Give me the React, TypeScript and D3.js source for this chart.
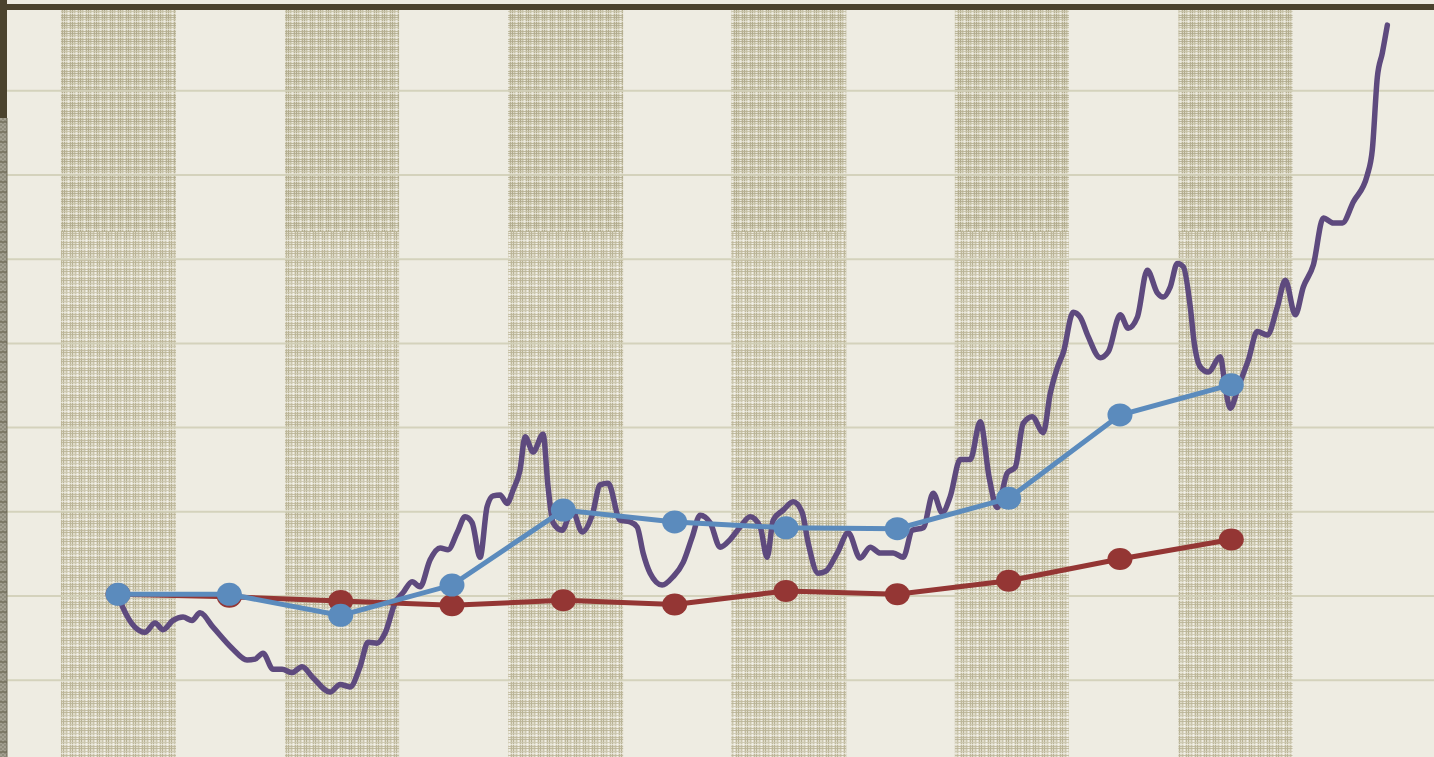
import { useMemo } from "react";
import * as d3 from "d3";

// category positions, in months from the first observation
const categoryMonths = [0, 12, 24, 36, 48, 60, 72, 84, 96, 108, 120];

// shaded periods, [start month, end month]
const bandSpans: [number, number][] = [
  [-6.15, 6.25], [18.0, 30.3], [42.05, 54.45], [66.1, 78.5], [90.2, 102.5], [114.3, 126.6],
];

// series with markers (index, first = 100)
const redValues = [100.2, 99.9, 99.4, 98.9, 99.5, 99.0, 100.6, 100.2, 101.8, 104.4, 106.7];
const blueValues = [100.2, 100.2, 97.7, 101.3, 110.2, 108.8, 108.1, 108.0, 111.6, 121.5, 125.1];

// weekly-ish series: [month, value]
const purpleSeries: [number, number][] = [
  [0, 100.2], [0.54, 98.6], [2.91, 95.7], [3.99, 96.8], [4.85, 96.0], [5.93, 97.1],
  [7.01, 97.5], [7.98, 97.1], [8.84, 98.0], [10.24, 96.3], [12.29, 93.8], [13.91, 92.4],
  [14.77, 92.5], [15.63, 93.2], [16.71, 91.3], [17.68, 91.3], [18.76, 90.9], [19.84, 91.6],
  [21.02, 90.3], [22.86, 88.6], [23.94, 89.5], [25.01, 89.2], [26.09, 91.6], [26.95, 94.5],
  [27.92, 94.4], [28.79, 95.6], [29.87, 99.2], [30.73, 100.4], [31.7, 101.7], [32.56, 101.1],
  [33.64, 104.3], [34.72, 105.7], [35.58, 105.5], [36.55, 107.5], [37.41, 109.4], [38.17, 108.7],
  [39.03, 104.6], [39.78, 110.6], [40.43, 111.9], [41.19, 112.0], [41.94, 111.0], [42.59, 112.6],
  [43.34, 115.0], [43.88, 118.9], [44.74, 117.1], [45.82, 119.2], [46.36, 112.9], [46.9, 108.7],
  [47.87, 107.8], [48.95, 110.2], [50.03, 107.6], [51.11, 109.6], [51.97, 113.2], [52.83, 113.4],
  [54.12, 109.0], [55.2, 108.8], [55.96, 108.2], [56.6, 105.1], [57.36, 102.7], [58.65, 101.3],
  [59.84, 102.3], [60.92, 104.0], [61.89, 107.0], [62.75, 109.6], [63.83, 108.7], [64.91, 105.8],
  [65.98, 106.7], [67.06, 108.2], [68.14, 109.4], [69.22, 108.2], [69.97, 104.6], [70.62, 109.0],
  [71.7, 110.2], [72.78, 111.2], [73.75, 109.9], [74.39, 106.3], [75.47, 102.7], [76.23, 102.9],
  [77.52, 105.1], [78.71, 107.5], [80.0, 104.5], [81.08, 105.8], [82.16, 105.1], [83.56, 105.1],
  [84.64, 104.6], [85.61, 107.8], [86.79, 108.1], [87.87, 112.2], [88.84, 109.9], [89.7, 111.8],
  [90.78, 116.2], [91.86, 116.2], [92.94, 120.7], [93.91, 114.0], [94.77, 110.5], [95.85, 114.6],
  [96.71, 115.3], [97.57, 120.5], [98.54, 121.3], [99.73, 119.4], [100.49, 124.1], [101.24, 127.1],
  [101.89, 128.9], [102.96, 133.7], [103.72, 133.1], [104.58, 130.8], [105.88, 128.3], [106.74, 129.0],
  [108.03, 133.4], [108.89, 131.8], [109.87, 133.1], [110.94, 138.7], [112.02, 136.0], [112.67, 135.5],
  [113.42, 136.7], [114.18, 139.5], [114.83, 139.1], [115.58, 134.3], [116.01, 130.0], [116.66, 127.2],
  [117.52, 126.6], [118.81, 128.4], [119.35, 124.8], [119.89, 122.3], [120.75, 124.8], [121.83, 128.0],
  [122.8, 131.4], [123.88, 131.0], [124.96, 134.3], [125.82, 137.5], [126.9, 133.4], [127.76, 136.7],
  [128.84, 139.3], [129.92, 144.9], [131.0, 144.3], [131.97, 144.3], [133.15, 146.8], [134.66, 150.0],
  [135.2, 153.0], [135.74, 161.6], [136.28, 164.5], [136.82, 167.8],
];

const yTicks = [90, 100, 110, 120, 130, 140, 150, 160];

const W = 1434;
const H = 757;

export default function App() {
  const x = useMemo(() => d3.scaleLinear().domain([0, 120]).range([118, 1231.3]), []);
  const y = useMemo(() => d3.scaleLinear().domain([90, 160]).range([680.2, 90.8]), []);

  const markerLine = d3
    .line<number>()
    .x((_, i) => x(categoryMonths[i]))
    .y((d) => y(d));

  const purpleLine = d3
    .line<[number, number]>()
    .x((d) => x(d[0]))
    .y((d) => y(d[1]))
    .curve(d3.curveMonotoneX);

  const bandTop = 7;
  const bandSplit = 232;

  // ticks on the left strip
  const stripTicks = d3.range(122, H, 10);

  return (
    <svg
      width={W}
      height={H}
      style={{ position: "absolute", left: 0, top: 0, display: "block" }}
    >
      <defs>
        <pattern id="plaidLow" width="9" height="9" patternUnits="userSpaceOnUse">
          <rect width="9" height="9" fill="#dfdbc9" />
          <rect x="0" width="1" height="9" fill="#b8b295" />
          <rect x="3" width="1" height="9" fill="#cac5ac" />
          <rect x="5" width="1" height="9" fill="#f0eee6" />
          <rect x="7" width="1" height="9" fill="#beb89b" />
          <rect y="1" width="9" height="1" fill="#bab497" opacity="0.85" />
          <rect y="4" width="9" height="1" fill="#ccc7af" opacity="0.85" />
          <rect y="6" width="9" height="1" fill="#f0eee6" opacity="0.7" />
          <rect y="8" width="9" height="1" fill="#beb89b" opacity="0.85" />
        </pattern>
        <pattern id="plaidHigh" width="8" height="8" patternUnits="userSpaceOnUse">
          <rect width="8" height="8" fill="#dad6c3" />
          <rect x="0" width="1" height="8" fill="#b0aa8b" />
          <rect x="2" width="1" height="8" fill="#c6c1a6" />
          <rect x="4" width="1" height="8" fill="#ebe9dd" />
          <rect x="6" width="1" height="8" fill="#b6b092" />
          <rect y="1" width="8" height="1" fill="#b2ac8e" opacity="0.85" />
          <rect y="3" width="8" height="1" fill="#c8c3a8" opacity="0.85" />
          <rect y="5" width="8" height="1" fill="#ebe9dd" opacity="0.7" />
          <rect y="7" width="8" height="1" fill="#b6b092" opacity="0.85" />
        </pattern>
        <pattern id="strip" width="4" height="4" patternUnits="userSpaceOnUse">
          <rect width="4" height="4" fill="#a3a091" />
          <rect width="2" height="2" fill="#8f8c7c" />
          <rect x="2" y="2" width="2" height="2" fill="#8f8c7c" />
        </pattern>
      </defs>

      <rect width={W} height={H} fill="#eeece2" />

      {/* alternating bands */}
      {bandSpans.map(([a, b]) => (
        <g key={a}>
          <rect
            x={x(a)}
            y={bandTop}
            width={x(b) - x(a)}
            height={bandSplit - bandTop}
            fill="url(#plaidHigh)"
          />
          <rect
            x={x(a)}
            y={bandSplit}
            width={x(b) - x(a)}
            height={H - bandSplit}
            fill="url(#plaidLow)"
          />
        </g>
      ))}

      {/* grid */}
      {yTicks.map((t) => (
        <line
          key={t}
          x1={7}
          x2={W}
          y1={y(t)}
          y2={y(t)}
          stroke="#d2d0b8"
          strokeWidth={2}
          opacity={0.9}
        />
      ))}

      {/* frame pieces */}
      <rect x={0} y={4} width={W} height={6} fill="#4b432e" />
      <rect x={0} y={0} width={7} height={118} fill="#4b432e" />
      <rect x={0} y={118} width={7} height={H - 118} fill="url(#strip)" />
      <line x1={7} x2={7} y1={118} y2={H} stroke="#6f6b58" strokeWidth={1} />
      {stripTicks.map((t) => (
        <line key={t} x1={0} x2={7} y1={t} y2={t} stroke="#6b6753" strokeWidth={1.2} />
      ))}

      {/* purple series */}
      <path
        d={purpleLine(purpleSeries) ?? ""}
        fill="none"
        stroke="#5e4a7e"
        strokeWidth={5.5}
        strokeLinejoin="round"
        strokeLinecap="round"
      />

      {/* red series */}
      <path d={markerLine(redValues) ?? ""} fill="none" stroke="#943634" strokeWidth={5} />
      {redValues.map((v, i) => (
        <ellipse key={i} cx={x(categoryMonths[i])} cy={y(v)} rx={12.5} ry={11} fill="#943634" />
      ))}

      {/* blue series */}
      <path d={markerLine(blueValues) ?? ""} fill="none" stroke="#5b8bbd" strokeWidth={5} />
      {blueValues.map((v, i) => (
        <ellipse key={i} cx={x(categoryMonths[i])} cy={y(v)} rx={12.5} ry={11.5} fill="#5b8bbd" />
      ))}
    </svg>
  );
}
